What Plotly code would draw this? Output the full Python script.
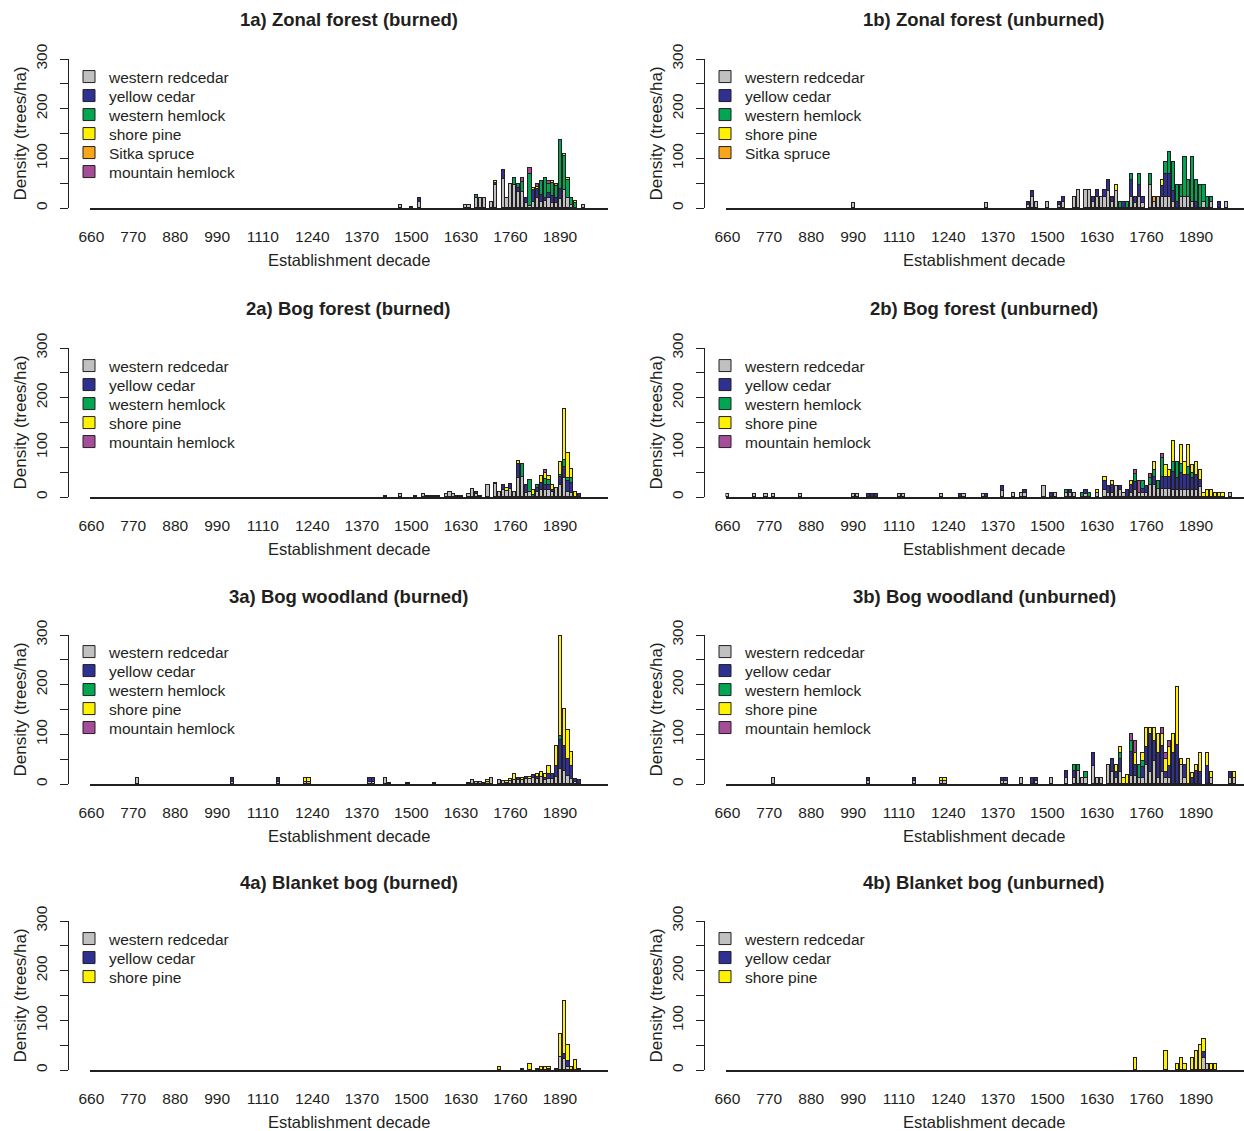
import plotly.graph_objects as go

W, H = 1244, 1131

SPECIES = ["western redcedar", "yellow cedar", "western hemlock", "shore pine", "Sitka spruce", "mountain hemlock"]
COLORS = ["#C0C0C0", "#2E3192", "#00A651", "#FFF200", "#F9A61A", "#A64D9A"]

TITLES = ["1a) Zonal forest (burned)", "1b) Zonal forest (unburned)",
          "2a) Bog forest (burned)", "2b) Bog forest (unburned)",
          "3a) Bog woodland (burned)", "3b) Bog woodland (unburned)",
          "4a) Blanket bog (burned)", "4b) Blanket bog (unburned)"]

X_TICKS = [660, 770, 880, 990, 1110, 1240, 1370, 1500, 1630, 1760, 1890]
Y_TICKS = [0, 50, 100, 150, 200, 250, 300]
Y_TICK_TEXT = ["0", "", "100", "", "200", "", "300"]

# species shown in each panel (indices into SPECIES)
SP_1A = [0, 1, 2, 3, 4, 5]
SP_1B = [0, 1, 2, 3, 4]
SP_2 = [0, 1, 2, 3, 5]
SP_3 = [0, 1, 2, 3, 5]
SP_4 = [0, 1, 3]

# rows: (decade, values per species in panel order)
P1A = [
    (1470, 6, 0, 0, 0, 0, 0), (1500, 2, 0, 0, 0, 0, 0), (1520, 12, 9, 0, 0, 0, 0),
    (1640, 6, 0, 0, 0, 0, 0), (1650, 6, 0, 0, 0, 0, 0), (1670, 20, 0, 7, 0, 0, 0),
    (1680, 21, 0, 0, 0, 0, 0), (1690, 21, 0, 0, 0, 0, 0), (1710, 13, 0, 0, 0, 0, 0),
    (1720, 46, 4, 0, 4, 0, 0), (1740, 59, 17, 0, 0, 0, 0), (1750, 21, 0, 0, 0, 0, 0),
    (1760, 48, 0, 0, 0, 0, 0), (1770, 47, 0, 14, 0, 0, 0), (1780, 33, 8, 7, 0, 0, 0),
    (1790, 32, 0, 20, 0, 0, 9), (1800, 11, 10, 0, 0, 0, 0), (1810, 4, 0, 64, 0, 0, 13),
    (1820, 13, 24, 0, 4, 0, 0), (1830, 20, 18, 0, 4, 0, 6), (1840, 13, 14, 27, 0, 0, 0),
    (1850, 14, 6, 41, 0, 0, 0), (1860, 20, 10, 18, 0, 0, 6), (1870, 10, 14, 26, 4, 0, 0),
    (1880, 10, 10, 24, 0, 4, 0), (1890, 19, 20, 97, 0, 0, 0), (1900, 36, 0, 69, 4, 0, 0),
    (1910, 20, 0, 37, 4, 0, 0), (1920, 6, 0, 15, 0, 0, 0), (1930, 0, 0, 10, 4, 0, 0),
    (1950, 6, 0, 0, 0, 0, 0),
]
P1B = [
    (990, 10, 0, 0, 0, 0), (1340, 10, 0, 0, 0, 0), (1450, 6, 6, 0, 0, 0),
    (1460, 22, 12, 0, 0, 0), (1470, 12, 0, 0, 0, 0), (1500, 12, 0, 0, 0, 0),
    (1530, 6, 6, 0, 0, 0), (1540, 12, 11, 0, 0, 0), (1570, 23, 0, 0, 0, 0),
    (1580, 36, 0, 0, 0, 0), (1600, 36, 0, 0, 0, 0), (1610, 36, 0, 0, 0, 0),
    (1620, 12, 11, 0, 0, 0), (1630, 23, 13, 0, 0, 0), (1640, 23, 0, 0, 0, 0),
    (1650, 23, 13, 0, 0, 0), (1660, 35, 22, 0, 0, 0), (1670, 12, 11, 0, 0, 0),
    (1680, 34, 0, 0, 12, 0), (1690, 0, 0, 12, 0, 0), (1700, 0, 12, 0, 0, 0),
    (1710, 0, 0, 12, 0, 0), (1720, 23, 34, 12, 0, 0), (1730, 11, 12, 0, 0, 0),
    (1740, 23, 23, 23, 0, 0), (1750, 11, 12, 0, 0, 0), (1770, 47, 0, 22, 0, 0),
    (1780, 12, 0, 0, 0, 11), (1790, 23, 0, 0, 0, 0), (1800, 23, 22, 0, 12, 0),
    (1810, 23, 46, 23, 0, 0), (1820, 23, 45, 44, 0, 0), (1830, 12, 23, 57, 0, 0),
    (1840, 0, 12, 34, 0, 0), (1850, 23, 0, 23, 0, 0), (1860, 23, 0, 80, 0, 0),
    (1870, 23, 0, 34, 0, 0), (1880, 12, 0, 91, 0, 0), (1890, 0, 12, 45, 0, 0),
    (1900, 0, 0, 46, 0, 0), (1910, 12, 0, 34, 0, 0), (1920, 0, 0, 23, 0, 0),
    (1930, 12, 0, 11, 0, 0), (1950, 0, 12, 0, 0, 0), (1970, 12, 0, 0, 0, 0),
]
P2A = [
    (1430, 3, 0, 0, 0, 0), (1470, 7, 0, 0, 0, 0), (1510, 3, 0, 0, 0, 0),
    (1530, 7, 0, 0, 0, 0), (1540, 3, 0, 0, 0, 0), (1550, 3, 0, 0, 0, 0),
    (1560, 3, 0, 0, 0, 0), (1570, 3, 0, 0, 0, 0), (1590, 7, 0, 0, 0, 0),
    (1600, 11, 0, 0, 0, 0), (1610, 7, 0, 0, 0, 0), (1620, 3, 0, 0, 0, 0),
    (1630, 3, 0, 0, 0, 0), (1650, 7, 0, 0, 0, 0), (1660, 17, 0, 0, 0, 0),
    (1670, 6, 5, 0, 0, 0), (1680, 3, 0, 0, 0, 0), (1700, 25, 0, 0, 0, 0),
    (1720, 26, 0, 0, 0, 3), (1730, 11, 0, 0, 0, 0), (1740, 14, 11, 0, 0, 0),
    (1750, 12, 0, 0, 7, 0), (1760, 16, 11, 0, 0, 0), (1770, 11, 0, 0, 0, 0),
    (1780, 38, 29, 0, 5, 0), (1790, 40, 0, 26, 0, 0), (1800, 8, 17, 0, 0, 0),
    (1810, 10, 0, 24, 0, 0), (1820, 0, 0, 5, 10, 0), (1830, 10, 8, 7, 0, 0),
    (1840, 15, 13, 0, 15, 0), (1850, 15, 10, 12, 12, 5), (1860, 14, 10, 10, 8, 0),
    (1870, 10, 5, 0, 9, 0), (1880, 19, 0, 0, 0, 0), (1890, 25, 15, 5, 25, 0),
    (1900, 38, 23, 14, 103, 0), (1910, 10, 23, 5, 50, 0), (1920, 8, 20, 10, 18, 0),
    (1930, 0, 0, 0, 11, 0), (1940, 0, 7, 0, 0, 0),
]
P2B = [
    (660, 7, 0, 0, 0, 0), (730, 7, 0, 0, 0, 0), (760, 7, 0, 0, 0, 0),
    (780, 7, 0, 0, 0, 0), (850, 7, 0, 0, 0, 0), (990, 7, 0, 0, 0, 0),
    (1000, 7, 0, 0, 0, 0), (1030, 0, 7, 0, 0, 0), (1040, 0, 7, 0, 0, 0),
    (1050, 0, 7, 0, 0, 0), (1110, 7, 0, 0, 0, 0), (1120, 7, 0, 0, 0, 0),
    (1220, 7, 0, 0, 0, 0), (1270, 0, 7, 0, 0, 0), (1280, 7, 0, 0, 0, 0),
    (1330, 7, 0, 0, 0, 0), (1340, 0, 7, 0, 0, 0), (1380, 12, 11, 0, 0, 0),
    (1410, 8, 0, 0, 0, 0), (1430, 8, 0, 0, 0, 0), (1440, 8, 7, 0, 0, 0),
    (1490, 23, 0, 0, 0, 0), (1510, 0, 8, 0, 0, 0), (1520, 8, 0, 0, 0, 0),
    (1550, 8, 0, 7, 0, 0), (1560, 8, 7, 0, 0, 0), (1570, 8, 0, 0, 0, 0),
    (1590, 0, 0, 8, 0, 0), (1600, 7, 8, 0, 0, 0), (1610, 0, 0, 8, 0, 0),
    (1630, 8, 0, 0, 7, 0), (1650, 15, 18, 0, 7, 0), (1660, 8, 15, 0, 0, 0),
    (1670, 8, 16, 0, 8, 0), (1680, 23, 0, 0, 0, 0), (1690, 15, 8, 0, 0, 0),
    (1700, 8, 0, 0, 0, 0), (1710, 0, 15, 0, 0, 0), (1720, 8, 16, 0, 8, 0),
    (1730, 15, 15, 17, 0, 8), (1740, 8, 0, 0, 0, 24), (1750, 8, 8, 16, 0, 0),
    (1760, 8, 15, 0, 0, 0), (1770, 24, 0, 15, 0, 8), (1780, 24, 16, 15, 15, 0),
    (1790, 16, 0, 16, 0, 0), (1800, 16, 24, 39, 0, 8), (1810, 16, 24, 0, 25, 0),
    (1820, 16, 24, 0, 15, 0), (1830, 14, 37, 20, 42, 0), (1840, 14, 24, 32, 0, 0),
    (1850, 14, 35, 18, 37, 0), (1860, 14, 30, 0, 26, 0), (1870, 14, 30, 16, 44, 0),
    (1880, 14, 25, 10, 16, 0), (1890, 14, 30, 0, 26, 0), (1900, 20, 15, 0, 20, 0),
    (1910, 0, 0, 0, 8, 0), (1920, 0, 0, 0, 15, 0), (1930, 0, 0, 0, 15, 0),
    (1940, 0, 0, 0, 8, 0), (1950, 0, 0, 0, 8, 0), (1960, 0, 0, 0, 8, 0),
    (1980, 8, 0, 0, 0, 0),
]
P3A = [
    (780, 13, 0, 0, 0, 0), (1030, 4, 9, 0, 0, 0), (1150, 4, 9, 0, 0, 0),
    (1220, 4, 0, 0, 9, 0), (1230, 4, 0, 0, 9, 0), (1390, 4, 9, 0, 0, 0),
    (1400, 4, 9, 0, 0, 0), (1430, 13, 0, 0, 0, 0), (1440, 3, 0, 0, 0, 0),
    (1490, 3, 0, 0, 0, 0), (1560, 3, 0, 0, 0, 0), (1650, 3, 0, 0, 0, 0),
    (1660, 8, 0, 0, 0, 0), (1670, 5, 0, 0, 0, 0), (1680, 5, 0, 0, 0, 0),
    (1690, 3, 0, 0, 0, 0), (1700, 4, 0, 0, 4, 0), (1710, 12, 0, 0, 0, 0),
    (1730, 8, 0, 0, 0, 0), (1740, 6, 0, 0, 0, 0), (1750, 3, 0, 0, 3, 0),
    (1760, 6, 0, 0, 4, 0), (1770, 8, 0, 0, 12, 0), (1780, 8, 4, 0, 0, 0),
    (1790, 8, 0, 0, 4, 0), (1800, 10, 5, 0, 0, 0), (1810, 10, 0, 0, 5, 0),
    (1820, 12, 6, 0, 0, 0), (1830, 10, 5, 0, 5, 0), (1840, 14, 0, 0, 10, 0),
    (1850, 8, 5, 0, 8, 0), (1860, 11, 10, 0, 15, 0), (1870, 10, 10, 0, 0, 0),
    (1880, 14, 23, 0, 39, 0), (1890, 31, 57, 8, 202, 2), (1900, 27, 50, 0, 74, 0),
    (1910, 17, 34, 0, 57, 0), (1920, 10, 27, 0, 27, 0), (1930, 5, 6, 0, 0, 0),
    (1940, 0, 9, 0, 0, 0),
]
P3B = [
    (780, 13, 0, 0, 0, 0), (1030, 6, 7, 0, 0, 0), (1150, 6, 7, 0, 0, 0),
    (1220, 6, 0, 0, 7, 0), (1230, 6, 0, 0, 7, 0), (1380, 6, 7, 0, 0, 0),
    (1390, 6, 7, 0, 0, 0), (1430, 13, 0, 0, 0, 0), (1460, 0, 13, 0, 0, 0),
    (1470, 6, 7, 0, 0, 0), (1510, 13, 0, 0, 0, 0), (1550, 13, 14, 0, 0, 0),
    (1570, 13, 13, 13, 0, 0), (1580, 26, 0, 13, 0, 0), (1590, 13, 0, 0, 0, 0),
    (1600, 12, 0, 13, 0, 0), (1620, 36, 26, 0, 0, 0), (1630, 13, 0, 0, 0, 0),
    (1640, 13, 0, 0, 0, 0), (1660, 38, 0, 0, 0, 0), (1670, 25, 25, 0, 0, 0),
    (1680, 12, 13, 0, 13, 0), (1690, 25, 25, 12, 13, 0), (1700, 0, 0, 0, 13, 0),
    (1710, 0, 0, 0, 18, 0), (1720, 17, 47, 23, 0, 13), (1730, 17, 21, 0, 24, 24),
    (1740, 13, 0, 25, 0, 0), (1750, 13, 22, 12, 15, 0), (1760, 38, 36, 0, 38, 0),
    (1770, 25, 75, 0, 12, 0), (1780, 47, 40, 0, 25, 0), (1790, 13, 50, 0, 37, 0),
    (1800, 25, 51, 0, 24, 12), (1810, 13, 12, 0, 25, 12), (1820, 13, 24, 0, 37, 12),
    (1830, 0, 62, 0, 38, 0), (1840, 0, 78, 0, 118, 0), (1850, 38, 0, 0, 12, 0),
    (1860, 13, 25, 0, 0, 0), (1870, 0, 0, 0, 50, 0), (1880, 0, 13, 0, 10, 0),
    (1890, 0, 26, 0, 12, 0), (1900, 0, 25, 0, 37, 0), (1920, 0, 37, 0, 25, 0),
    (1930, 13, 0, 0, 12, 0), (1980, 12, 13, 0, 0, 0), (1990, 13, 0, 0, 12, 0),
]
P4A = [
    (1730, 0, 0, 7), (1790, 0, 0, 3), (1810, 0, 0, 13), (1830, 3, 0, 0),
    (1840, 0, 0, 7), (1850, 0, 0, 7), (1860, 0, 3, 4), (1880, 0, 0, 3),
    (1890, 26, 0, 46), (1900, 22, 11, 106), (1910, 7, 12, 32), (1920, 0, 0, 7),
    (1930, 0, 0, 21), (1940, 0, 0, 3),
]
P4B = [
    (1730, 0, 0, 24), (1810, 0, 0, 38), (1840, 0, 0, 12), (1850, 0, 0, 24),
    (1860, 0, 0, 12), (1880, 0, 0, 24), (1890, 0, 0, 38), (1900, 0, 0, 50),
    (1910, 25, 12, 25), (1920, 12, 0, 0), (1930, 0, 0, 12), (1940, 0, 0, 12),
]

PANELS = [(P1A, SP_1A), (P1B, SP_1B), (P2A, SP_2), (P2B, SP_2),
          (P3A, SP_3), (P3B, SP_3), (P4A, SP_4), (P4B, SP_4)]

# ---- layout geometry (pixels) ----
FONT = "Liberation Sans, Arial, Helvetica, sans-serif"
TXT = "#231F20"
ROW_BASE = [208, 497, 784, 1070]      # y pixel of value 0
ROW_H = 149                           # pixels for 300 units
COL_X0 = [89.5, 725.5]
COL_X1 = [607.5, 1243.5]
YAXIS_X = [68, 704]
LEG_Y = [77, 366, 652, 939]
LEG_TEXT_X = [109, 745]
LEG_STEP = 19

def px(xp):
    return xp / W

def py(yp):
    return 1 - yp / H

fig = go.Figure()
layout = dict(template="none", barmode="stack", width=W, height=H,
              margin=dict(l=0, r=0, t=0, b=0, pad=0, autoexpand=False),
              paper_bgcolor="white", plot_bgcolor="white", showlegend=True,
              font=dict(family=FONT, color=TXT, size=15), bargap=0)
annotations = []
leg_count = 0

for k, (rows, sp_idx) in enumerate(PANELS):
    r, c = divmod(k, 2)
    n = k + 1
    xa = "x" if n == 1 else f"x{n}"
    ya = "y" if n == 1 else f"y{n}"
    for j, s in enumerate(sp_idx):
        leg_count += 1
        leg = "legend" if leg_count == 1 else f"legend{leg_count}"
        xs = [row[0] for row in rows if row[1 + j] > 0]
        ys = [row[1 + j] for row in rows if row[1 + j] > 0]
        fig.add_trace(go.Bar(
            x=xs, y=ys, name=SPECIES[s], xaxis=xa, yaxis=ya, legend=leg,
            width=8.3, marker=dict(color=COLORS[s], line=dict(color="#231F20", width=1)),
            showlegend=True))
        layout[leg] = dict(x=px(LEG_TEXT_X[c] - 40), y=py(LEG_Y[r] + j * LEG_STEP),
                           xanchor="left", yanchor="middle", bgcolor="rgba(0,0,0,0)",
                           borderwidth=0, font=dict(size=15.5, color=TXT, family=FONT),
                           itemclick=False, itemdoubleclick=False)
    layout["xaxis" if n == 1 else f"xaxis{n}"] = dict(
        domain=[px(COL_X0[c]), px(COL_X1[c])], anchor=ya, range=[655, 2015],
        showline=True, linecolor="#231F20", linewidth=2, ticks="", showgrid=False,
        zeroline=False, tickmode="array", tickvals=X_TICKS, automargin=False,
        ticktext=[str(t) for t in X_TICKS], tickfont=dict(size=15.5, color=TXT, family=FONT),
        ticklabelstandoff=13, fixedrange=True)
    layout["yaxis" if n == 1 else f"yaxis{n}"] = dict(
        domain=[py(ROW_BASE[r]), py(ROW_BASE[r] - ROW_H)], anchor="free",
        position=px(YAXIS_X[c]), range=[0, 300], showline=True, linecolor="#231F20",
        linewidth=1, ticks="outside", ticklen=8, tickwidth=1, tickcolor="#231F20",
        tickmode="array", tickvals=Y_TICKS, ticktext=Y_TICK_TEXT, tickangle=-90,
        tickfont=dict(size=15.5, color=TXT, family=FONT), ticklabelstandoff=7,
        showgrid=False, zeroline=False, fixedrange=True, automargin=False)
    cx = (COL_X0[c] + COL_X1[c]) / 2
    annotations.append(dict(text=f"<b>{TITLES[k]}</b>", x=px(cx), y=py(ROW_BASE[r] - 188),
                            xref="paper", yref="paper", showarrow=False,
                            font=dict(size=18.5, color=TXT, family=FONT),
                            xanchor="center", yanchor="middle"))
    annotations.append(dict(text="Establishment decade", x=px(cx), y=py(ROW_BASE[r] + 52),
                            xref="paper", yref="paper", showarrow=False,
                            font=dict(size=16.5, color=TXT, family=FONT),
                            xanchor="center", yanchor="middle"))
    annotations.append(dict(text="Density (trees/ha)", x=px(YAXIS_X[c] - 48),
                            y=py(ROW_BASE[r] - ROW_H / 2), xref="paper", yref="paper",
                            showarrow=False, textangle=-90,
                            font=dict(size=17, color=TXT, family=FONT),
                            xanchor="center", yanchor="middle"))

layout["annotations"] = annotations
fig.update_layout(**layout)
fig.write_html("out.html", config={"displayModeBar": False},
               post_script="document.body.style.margin='0';document.body.style.overflow='hidden';")
